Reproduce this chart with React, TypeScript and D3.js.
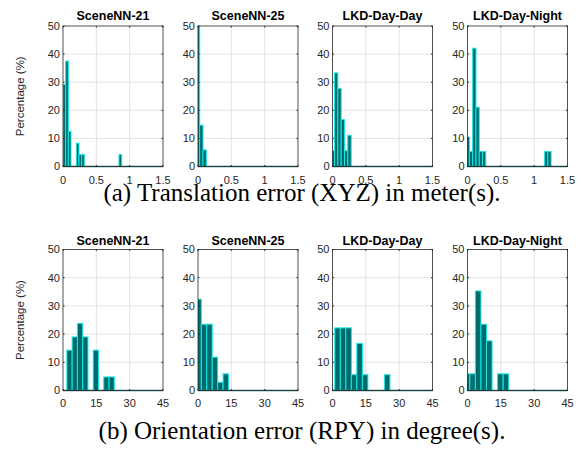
import { useEffect, useRef } from 'react';
import * as d3 from 'd3';

const titles = ['SceneNN-21', 'SceneNN-25', 'LKD-Day-Day', 'LKD-Day-Night'];
const yTicks = [0, 10, 20, 30, 40, 50];

// (a) translation error, meters: first bin edge, bin width, % per bin
const transStart = [0, -0.025, -0.02, -0.02];
const transWidth = [0.04, 0.05, 0.05, 0.049];
const transPct = [
  [29.2, 37.5, 12.5, 0, 0, 8.3, 4.2, 4.2, 0, 0, 0, 0, 0, 0, 0, 0, 0, 0, 0, 0, 0, 4.2],
  [79.4, 14.7, 5.9],
  [5.6, 33.3, 27.8, 16.7, 5.6, 11.1],
  [10.5, 5.3, 42.1, 21.1, 5.3, 5.3, 0, 0, 0, 0, 0, 0, 0, 0, 0, 0, 0, 0, 0, 0, 0, 0, 0, 0, 5.3, 5.3],
];
const transTicks = [0, 0.5, 1, 1.5];

// (b) orientation error, degrees
const rotStart = [1.75, -0.96, 1.04, -1.45];
const rotWidth = [2.37, 2.45, 2.48, 2.5];
const rotPct = [
  [14.3, 19.0, 23.8, 19.0, 0, 14.3, 0, 4.8, 4.8],
  [32.4, 23.5, 23.5, 11.8, 2.9, 5.9],
  [22.2, 22.2, 22.2, 5.6, 16.7, 5.6, 0, 0, 0, 5.6],
  [5.9, 5.9, 35.3, 23.5, 17.6, 0, 5.9, 5.9],
];
const rotTicks = [0, 15, 30, 45];

const captions = ['(a) Translation error (XYZ) in meter(s).', '(b) Orientation error (RPY) in degree(s).'];

const W = 581;
const H = 449;

const App = () => {
  const svgRef = useRef<SVGSVGElement>(null);

  useEffect(() => {
    const svg = d3.select(svgRef.current);
    svg.selectAll('*').remove();

    const lefts = [63, 198, 332.5, 467.5];
    const pw = 100;
    const rows = [
      { top: 26, h: 140.5, start: transStart, width: transWidth, pct: transPct, ticks: transTicks, max: 1.5, titleY: 19.5, tickY: 184, fmt: (d: number) => String(d), caption: captions[0], capY: 201 },
      { top: 249.5, h: 141, start: rotStart, width: rotWidth, pct: rotPct, ticks: rotTicks, max: 45, titleY: 244.5, tickY: 407, fmt: (d: number) => String(d), caption: captions[1], capY: 439 },
    ];
    const font = 'Liberation Sans, Arial, Helvetica, sans-serif';
    const ink = '#262626';

    rows.forEach((row, ri) => {
      lefts.forEach((left, pi) => {
        const x = d3.scaleLinear().domain([0, row.max]).range([left, left + pw]);
        const y = d3.scaleLinear().domain([0, 50]).range([row.top + row.h, row.top]);
        const g = svg.append('g');
        const clipId = `clip-${ri}-${pi}`;
        g.append('clipPath').attr('id', clipId)
          .append('rect').attr('x', left).attr('y', row.top).attr('width', pw).attr('height', row.h);

        // grid
        g.selectAll('.gx').data(row.ticks.slice(1, -1)).enter().append('line')
          .attr('x1', d => x(d)).attr('x2', d => x(d))
          .attr('y1', row.top).attr('y2', row.top + row.h)
          .attr('stroke', '#e3e3e3').attr('stroke-width', 1);
        g.selectAll('.gy').data(yTicks.slice(1, -1)).enter().append('line')
          .attr('x1', left).attr('x2', left + pw)
          .attr('y1', d => y(d)).attr('y2', d => y(d))
          .attr('stroke', '#e3e3e3').attr('stroke-width', 1);

        // bars
        const bins = row.pct[pi].map((v, i) => ({ x0: row.start[pi] + i * row.width[pi], x1: row.start[pi] + (i + 1) * row.width[pi], v }));
        g.append('g').attr('clip-path', `url(#${clipId})`)
          .selectAll('rect').data(bins.filter(b => b.v > 0)).enter().append('rect')
          .attr('x', d => x(d.x0)).attr('width', d => x(d.x1) - x(d.x0))
          .attr('y', d => y(d.v)).attr('height', d => y(0) - y(d.v))
          .attr('fill', '#006b6b').attr('stroke', '#19e6e6').attr('stroke-width', 1);

        // baseline of empty bins
        g.append('line')
          .attr('x1', left).attr('x2', left + pw)
          .attr('y1', y(0)).attr('y2', y(0))
          .attr('stroke', '#2a7a7a').attr('stroke-width', 1.6);

        // box
        g.append('rect').attr('x', left).attr('y', row.top).attr('width', pw).attr('height', row.h)
          .attr('fill', 'none').attr('stroke', ink).attr('stroke-width', 0.8);

        // ticks (inward, all sides)
        const tl = 1.5;
        row.ticks.forEach(t => {
          g.append('line').attr('x1', x(t)).attr('x2', x(t)).attr('y1', row.top + row.h).attr('y2', row.top + row.h - tl).attr('stroke', ink);
          g.append('line').attr('x1', x(t)).attr('x2', x(t)).attr('y1', row.top).attr('y2', row.top + tl).attr('stroke', ink);
        });
        yTicks.forEach(t => {
          g.append('line').attr('x1', left).attr('x2', left + tl).attr('y1', y(t)).attr('y2', y(t)).attr('stroke', ink);
          g.append('line').attr('x1', left + pw).attr('x2', left + pw - tl).attr('y1', y(t)).attr('y2', y(t)).attr('stroke', ink);
        });

        // tick labels
        g.selectAll('.xl').data(row.ticks).enter().append('text')
          .attr('x', d => x(d)).attr('y', row.tickY)
          .attr('text-anchor', 'middle').attr('font-family', font).attr('font-size', 11)
          .attr('fill', ink).text(d => row.fmt(d));
        g.selectAll('.yl').data(yTicks).enter().append('text')
          .attr('x', left - 3).attr('y', d => y(d)).attr('dy', '0.36em')
          .attr('text-anchor', 'end').attr('font-family', font).attr('font-size', 11)
          .attr('fill', ink).text(d => String(d));

        // title
        g.append('text').attr('x', left + pw / 2).attr('y', row.titleY)
          .attr('text-anchor', 'middle').attr('font-family', font).attr('font-weight', 'bold')
          .attr('font-size', 12.5).attr('fill', '#000').text(titles[pi]);

        if (pi === 0) {
          g.append('text')
            .attr('transform', `translate(24, ${row.top + row.h / 2}) rotate(-90)`)
            .attr('text-anchor', 'middle').attr('font-family', font).attr('font-size', 11.5)
            .attr('fill', ink).text('Percentage (%)');
        }
      });

      svg.append('text').attr('x', 302).attr('y', row.capY)
        .attr('text-anchor', 'middle').attr('font-family', 'Liberation Serif, Times New Roman, serif')
        .attr('font-size', 25).attr('fill', '#000').text(row.caption);
    });
  }, []);

  return (
    <div>
      <svg ref={svgRef} width={W} height={H} style={{ position: 'absolute', left: 0, top: 0, background: '#fff' }}></svg>
    </div>
  );
};

export default App;
